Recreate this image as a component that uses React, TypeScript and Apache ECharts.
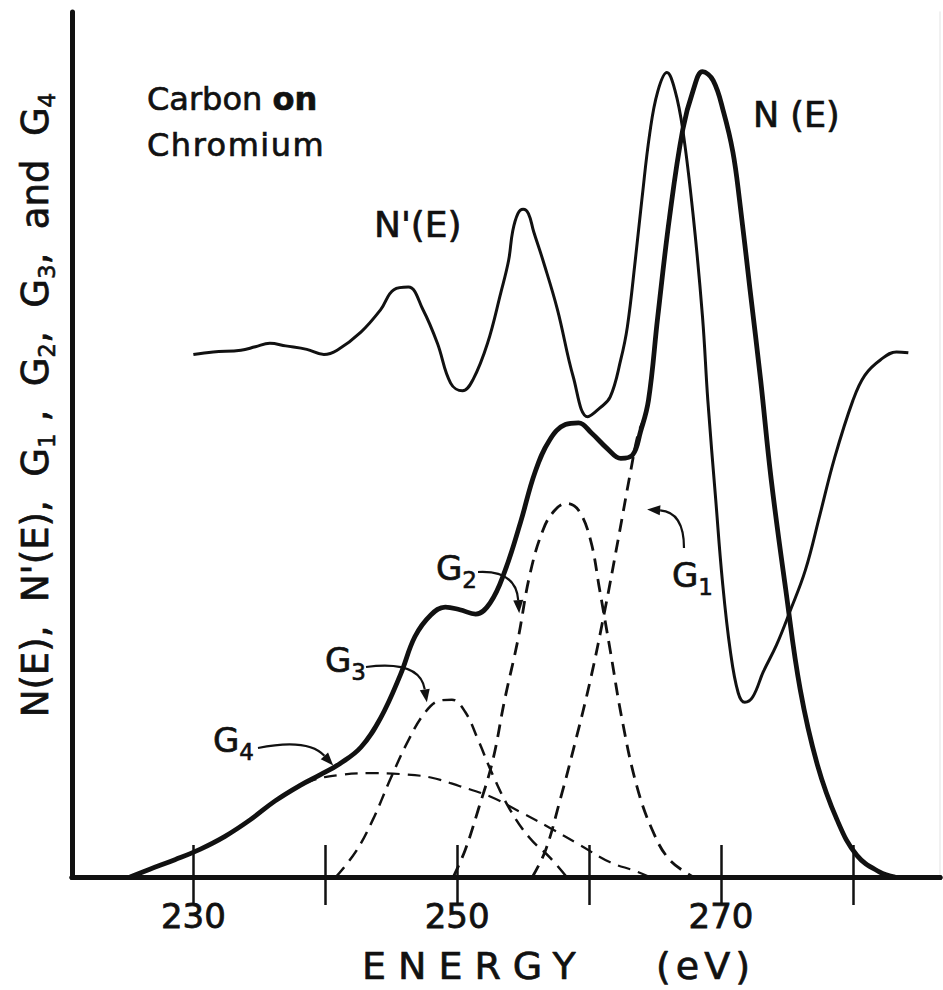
import React, { useEffect, useRef } from "react";
import * as echarts from "echarts";

const FONT = '"DejaVu Sans", "Liberation Sans", sans-serif';
const INK = "#111111";

// Energy axis (eV)
const energyTicks = [230, 240, 250, 260, 270, 280];
const energyLabels = [230, 250, 270];

// N(E): measured Auger spectrum, carbon on chromium
const nEnergy = [225.2, 226.7, 228.6, 230.5, 232.4, 234.3, 236.2, 238.1, 239.6, 241.1, 242.7, 244.2, 245.7, 246.8, 248.0, 249.1, 250.2, 251.4, 252.5, 253.6, 254.8, 255.9, 257.0, 258.2, 259.2, 260.2, 261.4, 262.4, 263.3, 263.9, 264.5, 265.2, 266.1, 267.1, 267.9, 268.6, 269.4, 270.2, 270.9, 271.4, 272.2, 273.0, 273.8, 274.9, 276.0, 277.3, 278.8, 280.3, 282.0, 283.2];
const nValue = [0, 0.9, 2.0, 3.2, 4.7, 6.6, 8.8, 10.6, 11.8, 13.1, 15.0, 18.4, 23.4, 27.8, 30.3, 31.2, 30.9, 30.4, 31.7, 35.3, 41.0, 46.8, 50.5, 52.3, 52.5, 51.3, 49.5, 48.4, 48.8, 51.5, 55.1, 64.7, 76.3, 86.4, 91.0, 93.1, 92.1, 88.4, 83.8, 78.3, 67.9, 57.5, 46.0, 33.3, 21.7, 13.0, 6.6, 2.5, 0.6, 0];

// N'(E): derivative spectrum
const dEnergy = [230.0, 231.5, 233.6, 234.7, 235.8, 237.0, 238.6, 239.9, 240.9, 242.7, 244.2, 245.2, 246.3, 247.4, 248.5, 249.5, 250.4, 251.2, 252.3, 253.3, 253.9, 254.2, 254.6, 255.0, 255.4, 255.8, 256.5, 257.6, 258.8, 259.9, 260.8, 261.6, 262.4, 262.9, 263.5, 264.0, 264.6, 265.2, 265.9, 266.5, 267.1, 267.9, 268.6, 269.0, 269.6, 270.1, 270.7, 271.3, 271.8, 272.4, 273.2, 274.2, 275.2, 276.4, 277.5, 278.6, 280.0, 280.9, 282.1, 283.3, 284.2];
const dValue = [60.4, 60.7, 60.9, 61.3, 61.7, 61.4, 61.0, 60.4, 60.9, 63.0, 65.6, 67.9, 68.2, 65.6, 61.7, 57.1, 56.2, 57.5, 61.7, 67.5, 71.3, 74.6, 76.7, 77.2, 76.7, 74.6, 71.3, 65.6, 57.8, 53.2, 54.2, 55.5, 59.8, 63.6, 71.3, 78.3, 86.0, 90.8, 93.0, 91.0, 86.4, 76.3, 64.7, 55.1, 43.6, 34.3, 26.2, 21.3, 20.2, 20.8, 23.7, 26.8, 30.6, 35.5, 41.9, 48.4, 55.1, 58.0, 59.8, 60.7, 60.6];

// Gaussian components G1..G4 (only the parts not hidden under N(E))
const g1Energy = [255.7, 256.7, 257.8, 258.9, 260.1, 261.2, 262.2, 263.1, 263.7, 264.1];
const g1Value = [0, 3.1, 8.9, 15.3, 22.8, 30.9, 39.0, 46.5, 51.1, 52.7];

const g2Energy = [249.7, 250.6, 251.6, 252.7, 253.6, 254.6, 255.5, 256.5, 257.4, 258.3, 259.2, 260.1, 260.8, 261.6, 262.5, 263.6, 264.8, 266.1, 267.9];
const g2Value = [0, 3.1, 7.8, 13.5, 20.5, 27.4, 34.9, 40.1, 42.4, 43.2, 42.4, 39.0, 33.2, 26.2, 18.2, 10.6, 5.4, 2.0, 0];

const g3Energy = [240.8, 242.3, 243.6, 244.9, 246.3, 247.6, 248.7, 249.6, 250.6, 251.6, 252.7, 254.0, 255.5, 257.0, 258.3];
const g3Value = [0, 2.9, 6.6, 11.2, 15.8, 19.1, 20.4, 20.5, 19.1, 15.8, 11.8, 7.8, 4.5, 2.3, 0];

const g4Energy = [237.0, 238.9, 241.1, 243.4, 245.7, 248.0, 250.2, 252.5, 254.8, 257.0, 259.3, 261.6, 263.5, 264.6];
const g4Value = [9.6, 11.1, 11.8, 12.0, 11.9, 11.5, 10.5, 9.3, 7.5, 5.7, 3.7, 1.7, 0.7, 0];

// Arrow tips of the component call-outs, in (energy, value)
const calloutTips: Record<string, number[]> = {
  "4": [240.6, 12.9],
  "3": [247.7, 20.2],
  "2": [254.7, 30.5],
  "1": [264.4, 42.5],
};

const pairs = (xs: number[], ys: number[]) => xs.map((x, i) => [x, ys[i]]);

export default function App() {
  const ref = useRef<HTMLDivElement>(null);

  useEffect(() => {
    document.body.style.margin = "0";
    const chart = echarts.init(ref.current!, null, { renderer: "svg" });

    const line = (name: string, xs: number[], ys: number[], width: number, dashed: boolean) => ({
      type: "line",
      name,
      data: pairs(xs, ys),
      symbol: "none",
      showSymbol: false,
      smooth: 0.4,
      silent: true,
      z: dashed ? 2 : 3,
      lineStyle: {
        color: INK,
        width,
        type: dashed ? [13, 8] : "solid",
        cap: "butt",
        join: "round",
      },
    });

    const xBase = {
      type: "value",
      min: 220.8,
      max: 286.6,
      splitLine: { show: false },
      axisLine: { show: true, lineStyle: { color: INK, width: 5 } },
    };

    chart.setOption({
      animation: false,
      backgroundColor: "#ffffff",
      grid: { left: 72, right: 3, top: 12, bottom: 113, containLabel: false },
      xAxis: [
        {
          ...xBase,
          position: "bottom",
          axisTick: { show: true, inside: true, length: 32, customValues: energyTicks, lineStyle: { color: INK, width: 2.5 } },
          axisLabel: {
            show: true,
            customValues: energyLabels,
            margin: 22,
            fontSize: 34,
            fontFamily: FONT,
            color: INK,
            textBorderColor: INK,
            textBorderWidth: 0.8,
          },
        },
        {
          ...xBase,
          position: "top",
          axisTick: { show: true, inside: true, length: 28, customValues: energyTicks, lineStyle: { color: INK, width: 2.5 } },
          axisLabel: { show: false },
        },
      ],
      yAxis: [
        {
          type: "value",
          min: 0,
          max: 100,
          position: "left",
          splitLine: { show: false },
          axisTick: { show: false },
          axisLabel: { show: false },
          axisLine: { show: true, lineStyle: { color: INK, width: 5 } },
        },
        {
          type: "value",
          min: 0,
          max: 100,
          position: "right",
          splitLine: { show: false },
          axisTick: { show: false },
          axisLabel: { show: false },
          axisLine: { show: true, lineStyle: { color: "#ececec", width: 1.5 } },
        },
      ],
      series: [
        line("G4", g4Energy, g4Value, 2.2, true),
        line("G3", g3Energy, g3Value, 2.5, true),
        line("G2", g2Energy, g2Value, 2.8, true),
        line("G1", g1Energy, g1Value, 2.8, true),
        line("N'(E)", dEnergy, dValue, 3.0, false),
        line("N(E)", nEnergy, nValue, 4.8, false),
      ],
    });

    const toPx = (p: number[]) => chart.convertToPixel({ seriesIndex: 0 }, p) as number[];

    const txt = (x: number, y: number, t: string, size: number, extra: any = {}) => ({
      type: "text",
      x,
      y,
      silent: true,
      style: {
        text: t,
        fontFamily: FONT,
        fontSize: size,
        fill: INK,
        stroke: INK,
        lineWidth: 0.7,
        align: "left",
        verticalAlign: "middle",
        ...extra,
      },
    });

    const subRich = {
      s: { fontFamily: FONT, fontSize: 23, fill: INK, stroke: INK, lineWidth: 0.6, lineHeight: 22, verticalAlign: "bottom" },
      b: { fontFamily: FONT, fontSize: 32, fontWeight: "bold", fill: INK, lineHeight: 40 },
    };

    const arrow = (start: number[], ctrl: number[], tip: number[]) => {
      const dx = tip[0] - ctrl[0];
      const dy = tip[1] - ctrl[1];
      const len = Math.hypot(dx, dy) || 1;
      const ux = dx / len;
      const uy = dy / len;
      const L = 13;
      const W = 5;
      const bx = tip[0] - ux * L;
      const by = tip[1] - uy * L;
      return [
        {
          type: "bezierCurve",
          silent: true,
          shape: { x1: start[0], y1: start[1], cpx1: ctrl[0], cpy1: ctrl[1], x2: bx, y2: by },
          style: { stroke: INK, lineWidth: 2.2, fill: "none" },
        },
        {
          type: "polygon",
          silent: true,
          shape: { points: [tip, [bx - uy * W, by + ux * W], [bx + uy * W, by - ux * W]] },
          style: { fill: INK },
        },
      ];
    };

    const gLabel = (x: number, y: number, n: string) =>
      txt(x, y, `G{s|${n}}`, 34, { rich: subRich, lineHeight: 46 });

    const t4 = toPx(calloutTips["4"]);
    const t3 = toPx(calloutTips["3"]);
    const t2 = toPx(calloutTips["2"]);
    const t1 = toPx(calloutTips["1"]);

    const yTitle = "N(E),\u00a0\u00a0N'(E),\u00a0\u00a0G{s|1}\u00a0,\u00a0\u00a0G{s|2},\u00a0\u00a0G{s|3},\u00a0\u00a0and\u00a0\u00a0G{s|4}";

    chart.setOption({
      graphic: [
        txt(147, 99, "Carbon {b|on}", 32, { rich: subRich, lineHeight: 40 }),
        txt(147, 145, "Chromium", 32),
        txt(374, 224, "N'(E)", 36),
        txt(753, 115, "N (E)", 35),
        txt(362, 966, "ENERGY", 38),
        txt(656, 966, "(eV)", 38),
        {
          type: "text",
          x: 35,
          y: 405,
          rotation: Math.PI / 2,
          silent: true,
          style: {
            text: yTitle,
            rich: subRich,
            lineHeight: 46,
            fontFamily: FONT,
            fontSize: 37,
            fill: INK,
            stroke: INK,
            lineWidth: 0.7,
            align: "center",
            verticalAlign: "middle",
          },
        },
        gLabel(213, 740, "4"),
        gLabel(325, 660, "3"),
        gLabel(436, 568, "2"),
        gLabel(672, 575, "1"),
        ...arrow([258, 748], [308, 738], t4),
        ...arrow([366, 667], [420, 660], t3),
        ...arrow([478, 572], [516, 570], t2),
        ...arrow([684, 548], [684, 512], t1),
      ],
    });

    // wide lettering of the energy axis title and the caption
    const spacing: Record<string, string> = { ENERGY: "12", "(eV)": "5", Chromium: "1.5" };
    ref.current!.querySelectorAll("text").forEach((el) => {
      const s = spacing[(el.textContent || "").trim()];
      if (s) el.setAttribute("letter-spacing", s);
    });

    return () => chart.dispose();
  }, []);

  return <div ref={ref} style={{ width: 943, height: 990 }} />;
}
